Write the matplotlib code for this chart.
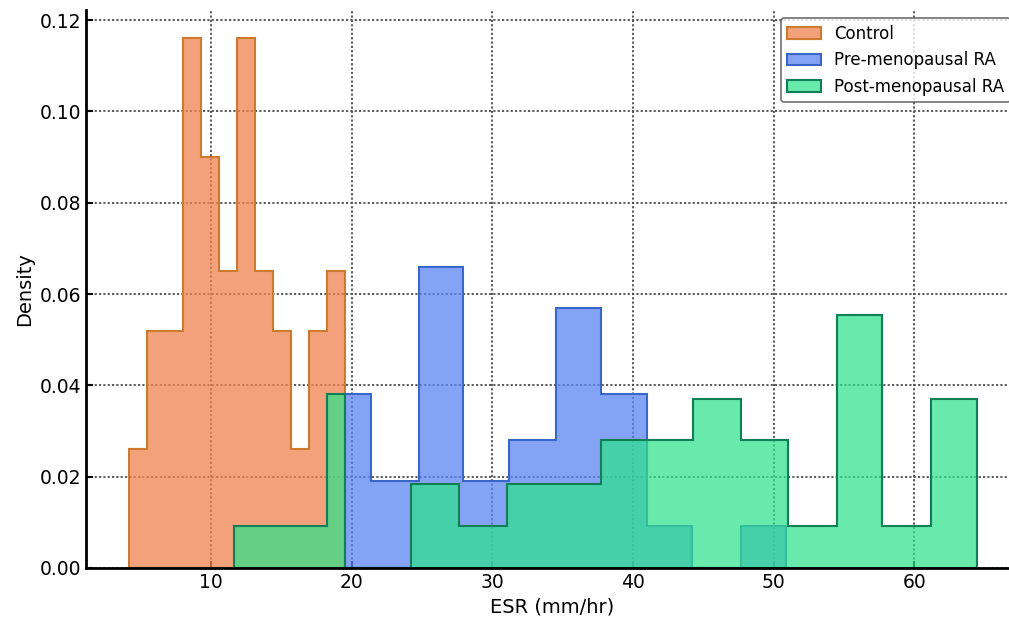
import matplotlib
matplotlib.use('Agg')
import matplotlib.pyplot as plt

# bin edges (mm/hr) and densities
control_edges = [4.17, 5.45, 6.73, 8.01, 9.29, 10.57, 11.85, 13.13, 14.41,
                 15.69, 16.97, 18.25, 19.53]
control_dens = [0.026, 0.052, 0.052, 0.116, 0.090, 0.065, 0.116, 0.065,
                0.052, 0.026, 0.052, 0.065]

pre_edges = [19.52, 21.37, 24.76, 27.89, 31.18, 34.52, 37.72, 40.97, 44.19,
             47.67, 50.87]
pre_dens = [0.038, 0.019, 0.066, 0.019, 0.028, 0.057, 0.038, 0.0093, 0.0,
            0.0093]

post_edges = [11.63, 18.24, 19.52, 24.21, 27.63, 31.04, 37.72, 44.26, 47.67,
              51.01, 54.49, 57.69, 61.17, 64.44]
post_dens = [0.0093, 0.038, 0.0, 0.0185, 0.0093, 0.0185, 0.028, 0.037, 0.028,
             0.0093, 0.0555, 0.0093, 0.037]

labels = ['Control', 'Pre-menopausal RA', 'Post-menopausal RA']
faces = ['#F0824E', '#5C84F2', '#2EE28C']
edges = ['#CC7A2E', '#3A66C8', '#0F7F55']
alphas = [0.75, 0.75, 0.72]

series = [(control_edges, control_dens),
          (pre_edges, pre_dens),
          (post_edges, post_dens)]

fig = plt.figure(figsize=(10.09, 6.19), dpi=100)
ax = fig.add_axes([0.0852, 0.0824, 0.9247, 0.9015])
ax.set_axisbelow(True)
ax.grid(True, color='0.3', linestyle=(0, (1.2, 1.2)), linewidth=1.3)

for (bins, dens), lab, fc, ec, a in zip(series, labels, faces, edges, alphas):
    face = matplotlib.colors.to_rgba(fc, a)
    ax.hist(bins[:-1], bins=bins, weights=dens, histtype='stepfilled',
            facecolor=face, edgecolor=ec, linewidth=1.5, label=lab)

ax.set_xlim(1.12, 67.43)
ax.set_ylim(0, 0.1222)
ax.set_xticks([10, 20, 30, 40, 50, 60])
ax.set_yticks([0.0, 0.02, 0.04, 0.06, 0.08, 0.10, 0.12])
ax.set_yticklabels(['0.00', '0.02', '0.04', '0.06', '0.08', '0.10', '0.12'])
ax.tick_params(direction='in', length=5, width=1.5, labelsize=13.5)
ax.set_xlabel('ESR (mm/hr)', fontsize=14)
ax.set_ylabel('Density', fontsize=14)

for side in ('top', 'right'):
    ax.spines[side].set_visible(False)
for side in ('left', 'bottom'):
    ax.spines[side].set_linewidth(2)
    ax.spines[side].set_color('black')

leg = ax.legend(loc='upper right', fontsize=12)
leg.get_frame().set_edgecolor('0.3')
leg.get_frame().set_linewidth(1.2)

fig.savefig('out.png', dpi=100)
plt.close(fig)
